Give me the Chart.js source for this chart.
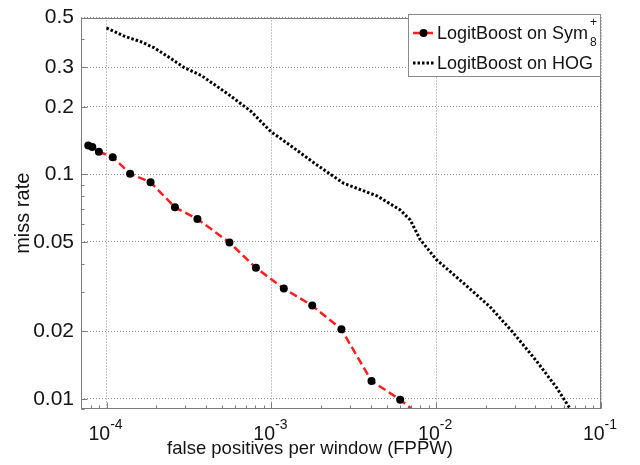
<!DOCTYPE html>
<html>
<head>
<meta charset="utf-8">
<script src="https://cdn.jsdelivr.net/npm/chart.js@4.4.1/dist/chart.umd.min.js"></script>
<style>
  html, body { margin: 0; padding: 0; background: #fff; }
  #c { display: block; }
</style>
</head>
<body>
<canvas id="c" width="640" height="465"></canvas>
<script>
// Detection curves: miss rate against false positives per window
const symFppw = [7.75e-5, 8.2e-5, 8.98e-5, 1.09e-4, 1.39e-4, 1.85e-4, 2.60e-4, 3.56e-4,
                 5.57e-4, 8.06e-4, 1.19e-3, 1.77e-3, 2.66e-3, 4.05e-3, 6.05e-3, 8.16e-3];
const symMiss = [0.1346, 0.1324, 0.1262, 0.1192, 0.1007, 0.0922, 0.0713, 0.0632,
                 0.0497, 0.0383, 0.0310, 0.0260, 0.0204, 0.0120, 0.0099, 0.0083];

const hogFppw = [1.0e-4, 1.27e-4, 1.63e-4, 1.95e-4, 2.37e-4, 2.96e-4, 3.75e-4, 5.46e-4,
                 7.52e-4, 9.93e-4, 1.26e-3, 1.86e-3, 2.74e-3, 4.40e-3, 6.05e-3, 6.96e-3,
                 8.0e-3, 1.0e-2, 1.46e-2, 2.12e-2, 2.88e-2, 4.07e-2, 5.38e-2, 6.54e-2, 7.41e-2];
const hogMiss = [0.449, 0.414, 0.389, 0.366, 0.334, 0.299, 0.276, 0.228,
                 0.191, 0.155, 0.137, 0.111, 0.0913, 0.0800, 0.0694, 0.0626,
                 0.0512, 0.0418, 0.0328, 0.0257, 0.0200, 0.0147, 0.0112, 0.00895, 0.00817];

const seriesNames = ['LogitBoost on Sym', 'LogitBoost on HOG'];
const symSub = '8';
const symSup = '+';

const xTicks = [1e-4, 1e-3, 1e-2, 1e-1];
const xTickExps = ['-4', '-3', '-2', '-1'];
const yTicks = [0.01, 0.02, 0.05, 0.1, 0.2, 0.3, 0.5];
const yTickLabels = ['0.01', '0.02', '0.05', '0.1', '0.2', '0.3', '0.5'];

const xTitle = 'false positives per window (FPPW)';
const yTitle = 'miss rate';

const FONT = '"Liberation Sans", Arial, sans-serif';
const TEXT = '#141414';
const AXIS = '#7c7c7c';

function toPoints(xs, ys) { return xs.map((x, i) => ({ x: x, y: ys[i] })); }

// Box around the axes plus inward major/minor tick marks
const framePlugin = {
  id: 'frame',
  afterDatasetsDraw(chart) {
    const { ctx, chartArea: a, scales: { x, y } } = chart;
    const L = Math.round(a.left) + 0.5, R = Math.round(a.right) - 0.5;
    const T = Math.round(a.top) + 0.5, B = Math.round(a.bottom) - 0.5;
    ctx.save();
    ctx.strokeStyle = AXIS;
    ctx.lineWidth = 1;
    ctx.setLineDash([]);
    ctx.beginPath();
    for (let k = -5; k <= -1; k++) {
      for (let m = 1; m <= 9; m++) {
        const v = m * Math.pow(10, k);
        if (v < x.min || v > x.max) continue;
        const px = Math.round(x.getPixelForValue(v)) + 0.5;
        const len = m === 1 ? 6 : 3;
        ctx.moveTo(px, B); ctx.lineTo(px, B - len);
      }
    }
    for (let k = -3; k <= -1; k++) {
      for (let m = 1; m <= 9; m++) {
        const v = m * Math.pow(10, k);
        if (v < y.min || v > y.max) continue;
        const py = Math.round(y.getPixelForValue(v)) + 0.5;
        const len = yTicks.some(t => Math.abs(t - v) < 1e-9) ? 6 : 3;
        ctx.moveTo(L, py); ctx.lineTo(L + len, py);
      }
    }
    ctx.stroke();
    ctx.strokeRect(L, T, R - L, B - T);
    ctx.restore();
  }
};

// Power-of-ten tick labels and the title of the x axis
const xLabelPlugin = {
  id: 'xLabels',
  afterDraw(chart) {
    const { ctx, scales: { x } } = chart;
    ctx.save();
    ctx.fillStyle = TEXT;
    ctx.textBaseline = 'alphabetic';
    ctx.textAlign = 'left';
    xTicks.forEach((v, i) => {
      const px = x.getPixelForValue(v);
      ctx.font = '19.5px ' + FONT;
      const wBase = ctx.measureText('10').width;
      ctx.font = '14px ' + FONT;
      const wExp = ctx.measureText(xTickExps[i]).width;
      const start = px - (wBase + wExp) / 2 - 1;
      ctx.font = '19.5px ' + FONT;
      ctx.fillText('10', start, 440);
      ctx.font = '14px ' + FONT;
      ctx.fillText(xTickExps[i], start + wBase, 429);
    });
    ctx.font = '18.5px ' + FONT;
    ctx.textAlign = 'center';
    ctx.textBaseline = 'middle';
    ctx.fillText(xTitle, 310, 449);
    ctx.restore();
  }
};

// Legend box in the upper right corner
const legendPlugin = {
  id: 'boxLegend',
  afterDraw(chart) {
    const { ctx } = chart;
    const bx = 408.5, by = 14.5, bw = 192, bh = 62;
    ctx.save();
    ctx.fillStyle = '#fff';
    ctx.fillRect(bx, by, bw, bh);
    ctx.strokeStyle = '#8a8a8a';
    ctx.lineWidth = 1;
    ctx.strokeRect(bx, by, bw, bh);

    const ds = chart.data.datasets;
    // entry 1: dashed red line with marker
    ctx.strokeStyle = ds[0].borderColor;
    ctx.lineWidth = ds[0].borderWidth;
    ctx.setLineDash(ds[0].borderDash);
    ctx.beginPath(); ctx.moveTo(413, 33); ctx.lineTo(434, 33); ctx.stroke();
    ctx.setLineDash([]);
    ctx.fillStyle = '#000';
    ctx.beginPath(); ctx.arc(423.5, 33, ds[0].pointRadius, 0, Math.PI * 2); ctx.fill();

    // entry 2: dotted black line
    ctx.strokeStyle = ds[1].borderColor;
    ctx.lineWidth = ds[1].borderWidth;
    ctx.setLineDash(ds[1].borderDash);
    ctx.beginPath(); ctx.moveTo(413, 63); ctx.lineTo(434, 63); ctx.stroke();
    ctx.setLineDash([]);

    ctx.fillStyle = TEXT;
    ctx.textAlign = 'left';
    ctx.textBaseline = 'alphabetic';
    ctx.font = '18px ' + FONT;
    ctx.fillText(seriesNames[0], 437, 39);
    const w = ctx.measureText(seriesNames[0]).width;
    ctx.font = '12px ' + FONT;
    ctx.fillText(symSub, 437 + w + 2, 46);
    ctx.fillText(symSup, 437 + w + 2, 26);
    ctx.font = '18px ' + FONT;
    ctx.fillText(seriesNames[1], 437, 69);
    ctx.restore();
  }
};

new Chart(document.getElementById('c'), {
  type: 'line',
  data: {
    datasets: [
      {
        label: seriesNames[0],
        data: toPoints(symFppw, symMiss),
        borderColor: '#ff1f1f',
        borderWidth: 2.5,
        borderDash: [8, 4],
        pointRadius: 4,
        pointBackgroundColor: '#000',
        pointBorderColor: '#000',
        pointBorderWidth: 0,
        tension: 0,
        clip: 0,
        order: 0
      },
      {
        label: seriesNames[1],
        data: toPoints(hogFppw, hogMiss),
        borderColor: '#000',
        borderWidth: 3,
        borderDash: [2.5, 2],
        pointRadius: 0,
        tension: 0,
        clip: 0,
        order: 1
      }
    ]
  },
  options: {
    responsive: false,
    animation: false,
    devicePixelRatio: 1,
    layout: { padding: { top: 12, right: 39, left: 0, bottom: 0 } },
    plugins: { legend: { display: false }, tooltip: { enabled: false } },
    scales: {
      x: {
        type: 'logarithmic',
        min: 7.2e-5,
        max: 0.1,
        afterBuildTicks: s => { s.ticks = xTicks.map(v => ({ value: v })); },
        afterFit: s => { s.height = 56; },
        ticks: { display: false },
        grid: { color: '#8a8a8a', lineWidth: 1, drawTicks: false },
        border: { display: false, dash: [1, 2] },
        title: { display: false }
      },
      y: {
        type: 'logarithmic',
        min: 0.009,
        max: 0.5,
        afterBuildTicks: s => { s.ticks = yTicks.map(v => ({ value: v })); },
        afterFit: s => { s.width = 81; },
        ticks: {
          color: TEXT, padding: 7,
          font: { family: FONT, size: 21, lineHeight: 1 },
          callback: (v, i) => yTickLabels[i]
        },
        grid: { color: '#8a8a8a', lineWidth: 1, drawTicks: false },
        border: { display: false, dash: [1, 2] },
        title: {
          display: true, text: yTitle, color: TEXT,
          font: { family: FONT, size: 20 },
          padding: { top: 11, bottom: 0 }
        }
      }
    }
  },
  plugins: [framePlugin, xLabelPlugin, legendPlugin]
});
</script>
</body>
</html>
